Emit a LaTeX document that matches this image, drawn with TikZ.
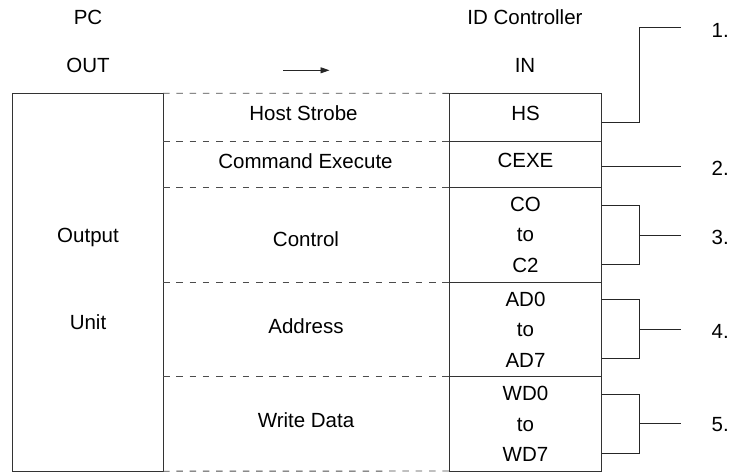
\documentclass[tikz,border=0pt]{standalone}
\usepackage{fontspec}
\setmainfont{Liberation Sans}
\usetikzlibrary{positioning,arrows.meta}

\tikzset{
  txt/.style={inner sep=0pt, font=\fontsize{20.5}{30.4}\selectfont, align=center},
  cell/.style={txt, draw=black!80, line width=0.9pt, minimum width=152.4pt, outer sep=0pt},
  one/.style={text depth=8pt},
  bus/.style={draw=black!70, line width=0.9pt, dash pattern=on 6.5pt off 6.8pt},
  wire/.style={draw=black!85, line width=0.9pt},
}

\begin{document}
\begin{tikzpicture}[x=1pt,y=-1pt]
\useasboundingbox (0,0) rectangle (732,472);

\node[txt] (pc) at (88,17) {PC};
\node[txt] (out) at (88,65.5) {OUT};
\node[txt] (idc) at (525,17) {ID Controller};
\node[txt] (in) at (525,65.5) {IN};
\coordinate (dirs) at (283.3,70.3);
\coordinate (dire) at (329.5,70.3);
\draw[wire, -{Triangle[length=9pt,width=6pt]}] (dirs) -- (dire);

\node[cell, minimum width=151pt, minimum height=378pt] (ou) at (87.5,282.2) {};
\node[txt] (outp) at (88,237) {Output};
\node[txt] (unit) at (88,322) {Unit};

\node[cell, one, minimum height=48pt] (hs) at (525.5,117.3) {HS};
\node[cell, one, minimum height=46pt, below=0pt of hs] (cexe) {CEXE};
\node[cell, minimum height=95pt, below=0pt of cexe] (ctl) {CO\\to\\C2};
\node[cell, minimum height=94.4pt, below=0pt of ctl] (adr) {AD0\\to\\AD7};
\node[cell, minimum height=94.3pt, below=0pt of adr] (wd) {WD0\\to\\WD7};

\draw[bus] (ou.north east) -- (hs.north west);
\draw[bus] (ou.east |- hs.south) -- (hs.south west);
\draw[bus] (ou.east |- cexe.south) -- (cexe.south west);
\draw[bus] (ou.east |- ctl.south) -- (ctl.south west);
\draw[bus] (ou.east |- adr.south) -- (adr.south west);
\draw[bus] (ou.south east) -- (wd.south west);

\node[txt] (hstr) at (303.5,113.3) {Host Strobe};
\node[txt] (cmd) at (305.5,161.3) {Command Execute};
\node[txt] (ctrl) at (306,239) {Control};
\node[txt] (addr) at (306,326) {Address};
\node[txt] (wdat) at (306,420) {Write Data};

\coordinate (k1) at (639.3,27.7);
\coordinate (e1) at (681,27.7);
\node[txt, anchor=west] (n1) at (711.5,30) {1.};
\draw[wire] (hs.east |- 0,122) -| (k1) -- (e1);

\coordinate (e2) at (681,166);
\node[txt, anchor=west] (n2) at (711.5,168) {2.};
\draw[wire] (cexe.east |- 0,166) -- (e2);

\coordinate (k3) at (639.3,235);
\coordinate (e3) at (681,235);
\node[txt, anchor=west] (n3) at (711.5,237) {3.};
\draw[wire] (ctl.east |- 0,205) -| (k3) |- (ctl.east |- 0,264.3);
\draw[wire] (k3) -- (e3);

\coordinate (k4) at (639.3,329.3);
\coordinate (e4) at (681,329.3);
\node[txt, anchor=west] (n4) at (711.5,331) {4.};
\draw[wire] (adr.east |- 0,299.7) -| (k4) |- (adr.east |- 0,358.7);
\draw[wire] (k4) -- (e4);

\coordinate (k5) at (639.3,423.7);
\coordinate (e5) at (681,423.7);
\node[txt, anchor=west] (n5) at (711.5,425) {5.};
\draw[wire] (wd.east |- 0,394.7) -| (k5) |- (wd.east |- 0,453);
\draw[wire] (k5) -- (e5);
\end{tikzpicture}
\end{document}
